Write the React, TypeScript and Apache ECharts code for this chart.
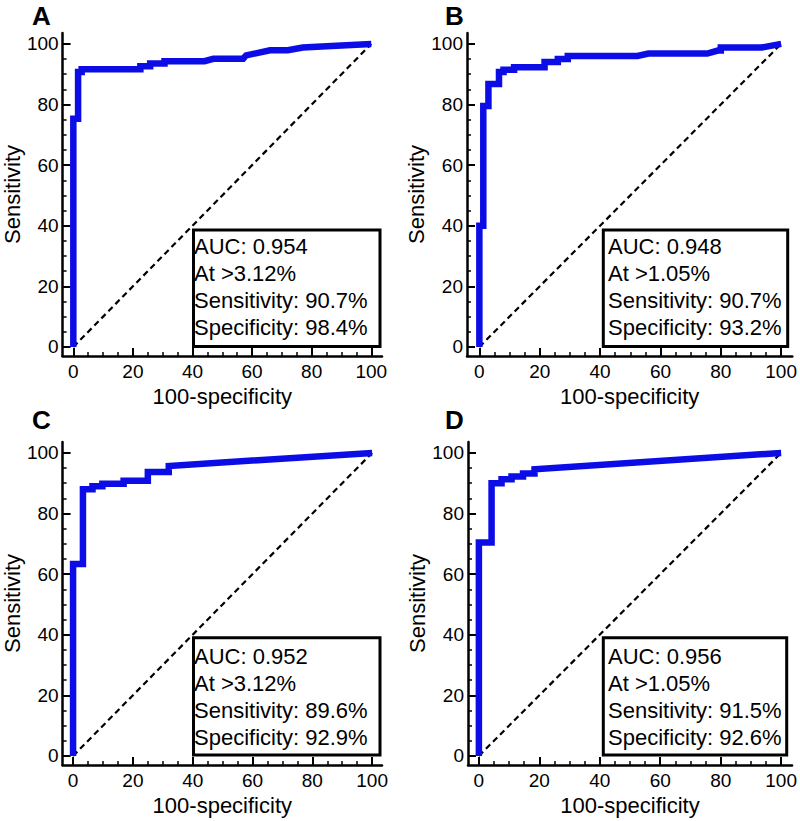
import React, { useEffect, useRef } from 'react';
import * as echarts from 'echarts';

// ---------- data ----------
const panelLetters = ['A', 'B', 'C', 'D'];
const majorTicks = [0, 20, 40, 60, 80, 100];
const minorTicks = [5, 10, 15, 25, 30, 35, 45, 50, 55, 65, 70, 75, 85, 90, 95];
const xAxisName = '100-specificity';
const yAxisName = 'Sensitivity';

const rocA = [
  [0, 0], [0, 75.3], [1.6, 75.3], [1.6, 90.7], [2.8, 90.7], [2.8, 91.6],
  [22.5, 91.6], [22.5, 92.6], [25.8, 92.6], [25.8, 93.5], [30.6, 93.5], [30.6, 94.3],
  [44, 94.3], [47, 95.1], [57, 95.1], [58, 96.2], [66, 97.9], [72, 97.9],
  [77, 98.8], [85, 99.2], [100, 100],
];
const rocB = [
  [0, 0], [0, 40], [1.3, 40], [1.3, 79.5], [3, 79.5], [3, 86.8], [6.5, 86.8],
  [6.5, 90.7], [8, 90.7], [8, 91.5], [11.5, 91.5], [11.5, 92.3], [21.6, 92.3],
  [21.6, 94], [26, 94], [26, 95], [29.3, 95], [29.3, 96], [52.4, 96], [56, 96.8],
  [75.5, 96.8], [79, 97.8], [80, 97.8], [80, 98.8], [93.5, 98.8], [100, 100],
];
const rocC = [
  [0, 0], [0, 63.3], [3.3, 63.3], [3.3, 88], [6.5, 88], [6.5, 89], [9.8, 89],
  [9.8, 89.8], [16.9, 89.8], [16.9, 90.8], [25, 90.8], [25, 93.7], [32, 93.7],
  [32, 95.7], [100, 100],
];
const rocD = [
  [0, 0], [0, 70.4], [4.2, 70.4], [4.2, 90], [7.5, 90], [7.5, 91.3], [10.8, 91.3],
  [10.8, 92.2], [14.6, 92.2], [14.6, 93.2], [18.4, 93.2], [18.4, 94.6], [100, 100],
];
const chanceLine = [[0, 0], [100, 100]];

const statsA = ['AUC: 0.954', 'At >3.12%', 'Sensitivity: 90.7%', 'Specificity: 98.4%'];
const statsB = ['AUC: 0.948', 'At >1.05%', 'Sensitivity: 90.7%', 'Specificity: 93.2%'];
const statsC = ['AUC: 0.952', 'At >3.12%', 'Sensitivity: 89.6%', 'Specificity: 92.9%'];
const statsD = ['AUC: 0.956', 'At >1.05%', 'Sensitivity: 91.5%', 'Specificity: 92.6%'];

const curves = [rocA, rocB, rocC, rocD];
const stats = [statsA, statsB, statsC, statsD];

// ---------- layout ----------
const FONT = '"Liberation Sans", Arial, Helvetica, sans-serif';
const BLUE = '#0c0ce6';
const Y_MIN = -3;
const Y_MAX = 103.6;

const layout = [
  { grid: { left: 56, top: 33, width: 326, height: 323 }, xMin: -3.6, xMax: 103.6,
    box: { x: 193.5, y: 230, w: 186.5, h: 116.5 }, textX: 194, textY0: 246, letterX: 32, letterY: 16 },
  { grid: { left: 467, top: 33, width: 327, height: 323 }, xMin: -4.1, xMax: 103.7,
    box: { x: 603.3, y: 230, w: 184.4, h: 116.5 }, textX: 608, textY0: 246, letterX: 445, letterY: 16 },
  { grid: { left: 56, top: 442, width: 326, height: 323 }, xMin: -3.5, xMax: 103.3,
    box: { x: 193.5, y: 637.7, w: 186.5, h: 117.3 }, textX: 194, textY0: 656, letterX: 32, letterY: 420 },
  { grid: { left: 468, top: 442, width: 326, height: 323 }, xMin: -3.6, xMax: 103.6,
    box: { x: 603.3, y: 637.7, w: 183.4, h: 117.3 }, textX: 608, textY0: 656, letterX: 445, letterY: 420 },
];
const LINE_STEP = 27.2;

export default function App() {
  const ref = useRef<HTMLDivElement>(null);

  useEffect(() => {
    if (!ref.current) return;
    const chart = echarts.init(ref.current, undefined, { renderer: 'svg' });

    const grids: any[] = [];
    const xAxes: any[] = [];
    const yAxes: any[] = [];
    const series: any[] = [];
    const graphics: any[] = [];

    layout.forEach((L, i) => {
      grids.push({ ...L.grid, containLabel: false });
      const axisLine = { show: true, onZero: false, lineStyle: { color: '#000', width: 2.5 } };
      xAxes.push({
        gridIndex: i, type: 'value', min: L.xMin, max: L.xMax, position: 'bottom',
        axisLine,
        axisTick: { show: true, inside: true, length: 8, customValues: majorTicks,
          lineStyle: { color: '#000', width: 2 } },
        axisLabel: { show: true, customValues: majorTicks, fontSize: 19, color: '#000',
          fontFamily: FONT, margin: 6 },
        splitLine: { show: false },
        name: xAxisName, nameLocation: 'middle', nameGap: 29,
        nameTextStyle: { fontSize: 22, color: '#000', fontFamily: FONT },
      });
      xAxes.push({
        gridIndex: i, type: 'value', min: L.xMin, max: L.xMax, position: 'bottom',
        axisLine: { show: false, onZero: false },
        axisTick: { show: true, inside: true, length: 4, customValues: minorTicks,
          lineStyle: { color: '#000', width: 1.5 } },
        axisLabel: { show: false, customValues: minorTicks },
        splitLine: { show: false },
      });
      yAxes.push({
        gridIndex: i, type: 'value', min: Y_MIN, max: Y_MAX, position: 'left',
        axisLine,
        axisTick: { show: true, inside: true, length: 8, customValues: majorTicks,
          lineStyle: { color: '#000', width: 2 } },
        axisLabel: { show: true, customValues: majorTicks, fontSize: 19, color: '#000',
          fontFamily: FONT, margin: 4 },
        splitLine: { show: false },
        name: yAxisName, nameLocation: 'middle', nameGap: 32,
        nameTextStyle: { fontSize: 22, color: '#000', fontFamily: FONT },
      });
      yAxes.push({
        gridIndex: i, type: 'value', min: Y_MIN, max: Y_MAX, position: 'left',
        axisLine: { show: false, onZero: false },
        axisTick: { show: true, inside: true, length: 4, customValues: minorTicks,
          lineStyle: { color: '#000', width: 1.5 } },
        axisLabel: { show: false, customValues: minorTicks },
        splitLine: { show: false },
      });

      series.push({
        type: 'line', xAxisIndex: 2 * i, yAxisIndex: 2 * i, data: chanceLine,
        symbol: 'none', silent: true, z: 2,
        lineStyle: { color: '#000', width: 2.2, type: [6, 4] },
      });
      series.push({
        type: 'line', xAxisIndex: 2 * i, yAxisIndex: 2 * i, data: curves[i],
        symbol: 'none', silent: true, z: 3, clip: false,
        lineStyle: { color: BLUE, width: 6.5, join: 'miter' },
      });

      graphics.push({
        type: 'rect', z: 10,
        shape: { x: L.box.x, y: L.box.y, width: L.box.w, height: L.box.h },
        style: { fill: '#fff', stroke: '#000', lineWidth: 3 },
      });
      stats[i].forEach((t, k) => {
        graphics.push({
          type: 'text', z: 11, x: L.textX, y: L.textY0 + k * LINE_STEP,
          style: { text: t, fontSize: 22, fontFamily: FONT, fill: '#000',
            align: 'left', verticalAlign: 'middle' },
        });
      });
      graphics.push({
        type: 'text', z: 11, x: L.letterX, y: L.letterY,
        style: { text: panelLetters[i], fontSize: 26, fontWeight: 'bold', fontFamily: FONT,
          fill: '#000', align: 'left', verticalAlign: 'middle' },
      });
    });

    chart.setOption({
      animation: false,
      backgroundColor: '#fff',
      grid: grids,
      xAxis: xAxes,
      yAxis: yAxes,
      series,
      graphic: graphics,
    });

    return () => chart.dispose();
  }, []);

  return (
    <div
      ref={ref}
      style={{ position: 'absolute', left: 0, top: 0, width: 800, height: 821, background: '#fff' }}
    />
  );
}
